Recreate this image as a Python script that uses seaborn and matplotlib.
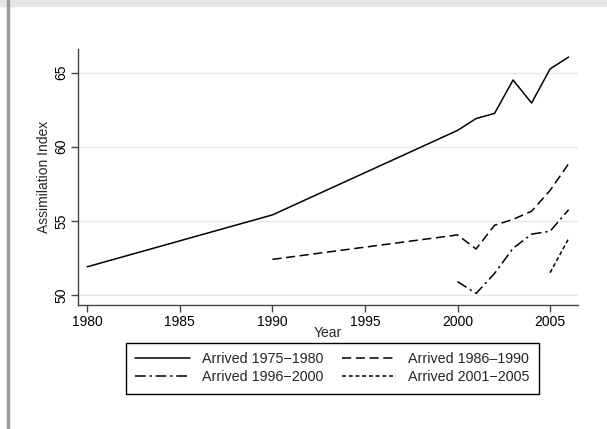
import matplotlib
matplotlib.use("Agg")
import matplotlib.pyplot as plt
import seaborn as sns
import pandas as pd

# Assimilation index by arrival cohort
years_1975_1980 = [1980, 1990, 2000, 2001, 2002, 2003, 2004, 2005, 2006]
index_1975_1980 = [51.9, 55.4, 61.1, 61.9, 62.25, 64.5, 62.95, 65.25, 66.05]

years_1986_1990 = [1990, 2000, 2001, 2002, 2003, 2004, 2005, 2006]
index_1986_1990 = [52.4, 54.05, 53.1, 54.7, 55.1, 55.65, 57.05, 58.85]

years_1996_2000 = [2000, 2001, 2002, 2003, 2004, 2005, 2006]
index_1996_2000 = [50.9, 50.1, 51.45, 53.15, 54.1, 54.3, 55.75]

years_2001_2005 = [2005, 2006]
index_2001_2005 = [51.5, 53.8]

cohort_labels = ["Arrived 1975\u22121980", "Arrived 1986\u20131990",
                 "Arrived 1996\u22122000", "Arrived 2001\u22122005"]

x_ticks = [1980, 1985, 1990, 1995, 2000, 2005]
y_ticks = [50, 55, 60, 65]

frames = []
for lab, xs, ys in zip(cohort_labels,
                       [years_1975_1980, years_1986_1990, years_1996_2000, years_2001_2005],
                       [index_1975_1980, index_1986_1990, index_1996_2000, index_2001_2005]):
    frames.append(pd.DataFrame({"Year": xs, "Assimilation Index": ys, "Cohort": lab}))
df = pd.concat(frames, ignore_index=True)

sns.set_theme(style="white")
plt.rcParams["font.family"] = ["Liberation Sans", "DejaVu Sans"]

fig = plt.figure(figsize=(6.07, 4.29), dpi=100)
ax = fig.add_axes([0.1285, 0.289, 0.952 - 0.1285, 0.886 - 0.289])

dash_styles = {
    cohort_labels[0]: "",
    cohort_labels[1]: (6, 3),
    cohort_labels[2]: (7, 2.5, 1.5, 2.5),
    cohort_labels[3]: (2.6, 1.8),
}

sns.lineplot(data=df, x="Year", y="Assimilation Index", hue="Cohort", style="Cohort",
             palette=["black"] * 4, dashes=dash_styles, linewidth=1.1,
             hue_order=cohort_labels, style_order=cohort_labels, ax=ax, legend=True)

ax.set_xlim(1979.5, 2006.5)
ax.set_ylim(49.32, 66.6)
ax.set_xticks(x_ticks)
ax.set_yticks(y_ticks)
ax.grid(axis="y", color="#e6e6e6", linewidth=1.0)
ax.grid(axis="x", visible=False)

for side in ["top", "right"]:
    ax.spines[side].set_visible(False)
for side in ["left", "bottom"]:
    ax.spines[side].set_color("#444444")
    ax.spines[side].set_linewidth(1.0)

ax.tick_params(axis="both", which="major", direction="out", length=5, width=1.0,
               color="#444444", labelsize=10, labelcolor="black",
               left=True, bottom=True, pad=2)
for lbl in ax.get_yticklabels():
    lbl.set_rotation(90)
    lbl.set_va("center")

ax.set_xlabel("Year", fontsize=10, labelpad=-2)
ax.set_ylabel("Assimilation Index", fontsize=10, labelpad=2)

handles, labels = ax.get_legend_handles_labels()
ax.get_legend().remove()
# two columns filled row by row
order = [0, 2, 1, 3]
leg = fig.legend([handles[i] for i in order], [labels[i] for i in order],
                 loc="center", bbox_to_anchor=(0.548, 0.142),
                 ncol=2, fontsize=10.3, frameon=True, fancybox=False, framealpha=1,
                 edgecolor="black", handlelength=3.8, handletextpad=0.85,
                 columnspacing=1.3, labelspacing=0.3, borderpad=0.65)
leg.get_frame().set_linewidth(1.0)

# outer frame strip at the top and left edge
fig.patches.append(plt.Rectangle((0, 1 - 6 / 429), 1, 6 / 429, transform=fig.transFigure,
                                 color="#e4e5e7", zorder=0))
fig.patches.append(plt.Rectangle((7 / 607, 0), 1.5 / 607, 1, transform=fig.transFigure,
                                 color="#9a9a9a", zorder=0))

fig.savefig("out.png", dpi=100)
